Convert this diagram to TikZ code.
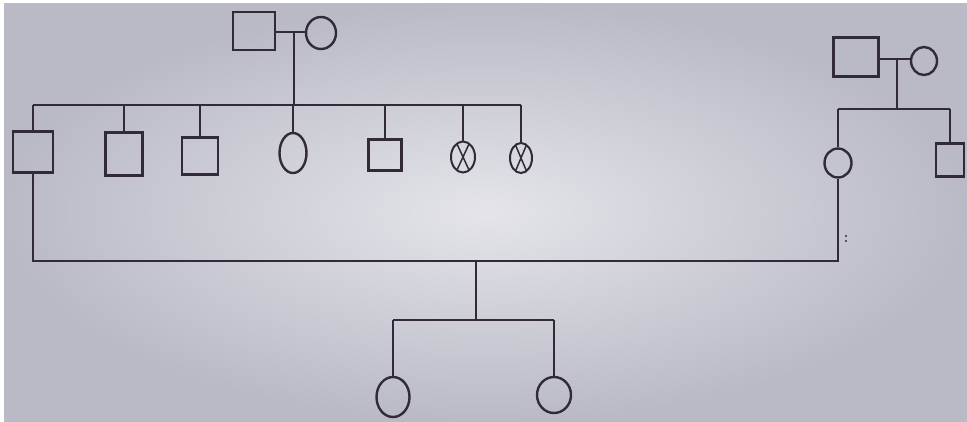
\documentclass[tikz,border=0pt]{standalone}
\usetikzlibrary{shapes.geometric}
\definecolor{ink}{RGB}{50,42,56}
\definecolor{paperin}{RGB}{228,228,234}
\definecolor{paperout}{RGB}{186,186,198}
\begin{document}
\begin{tikzpicture}[x=1pt,y=-1pt,
  sq/.style={draw=ink, rectangle, inner sep=0pt, line width=2.6pt},
  fem/.style={draw=ink, ellipse, inner sep=0pt, line width=2.4pt},
  aff/.style={fem, line width=2pt, path picture={
      \draw[ink, line width=1.5pt]
        ([xshift=3pt,yshift=4pt]path picture bounding box.north west) -- ([xshift=-3pt,yshift=-4pt]path picture bounding box.south east)
        ([xshift=-3pt,yshift=4pt]path picture bounding box.north east) -- ([xshift=3pt,yshift=-4pt]path picture bounding box.south west);}},
  lnk/.style={draw=ink, line width=2.8pt}]
\useasboundingbox (0,0) rectangle (967,421);
\fill[white] (0,0) rectangle (967,421);
\shade[inner color=paperin, outer color=paperout] (4,3) rectangle (967,421);

% generation I, left family
\node[sq, minimum width=42pt, minimum height=38pt] (gf1) at (254,31) {};
\node[fem, minimum width=30pt, minimum height=32pt] (gm1) at (321,33) {};
\coordinate (m1) at (294,32);
\coordinate (sib1) at (294,105);
\draw[lnk] (gf1.east |- m1) -- (gm1.west |- m1);
\draw[lnk] (m1) -- (sib1);

% generation II, left sibship
\node[sq, minimum width=40pt, minimum height=41pt] (c1) at (33,152) {};
\node[sq, minimum width=37pt, minimum height=43pt] (c2) at (124,154) {};
\node[sq, minimum width=36pt, minimum height=37pt] (c3) at (200,156) {};
\node[fem, minimum width=27pt, minimum height=40pt] (c4) at (293,153) {};
\node[sq, minimum width=33pt, minimum height=31pt] (c5) at (385,155) {};
\node[aff, minimum width=24pt, minimum height=31pt] (c6) at (463,157) {};
\node[aff, minimum width=22pt, minimum height=30pt] (c7) at (521,158) {};
\draw[lnk] (c1.north |- sib1) -- (c7.north |- sib1);
\foreach \c in {c1,c2,c3,c4,c5,c6,c7}{
  \draw[lnk] (\c.north |- sib1) -- (\c.north);
}

% generation I, right family
\node[sq, minimum width=45pt, minimum height=39pt] (gf2) at (856,57) {};
\node[fem, minimum width=26pt, minimum height=28pt] (gm2) at (924,61) {};
\coordinate (m2) at (897,59);
\coordinate (sib2) at (897,109);
\draw[lnk] (gf2.east |- m2) -- (gm2.west |- m2);
\draw[lnk] (m2) -- (sib2);

% generation II, right sibship
\node[fem, minimum width=27pt, minimum height=29pt] (d) at (838,163) {};
\node[sq, minimum width=28pt, minimum height=33pt] (s) at (950,160) {};
\draw[lnk] (d.north |- sib2) -- (s.north |- sib2);
\draw[lnk] (d.north |- sib2) -- (d.north);
\draw[lnk] (s.north |- sib2) -- (s.north);

% marriage of c1 and d
\coordinate (ml) at (0,261);
\coordinate (kid) at (476,261);
\coordinate (sib3) at (476,320);
\draw[lnk, line join=miter] (c1.south) -- (c1.south |- ml) -- (d.south |- ml) -- (d.south);
\draw[lnk] (kid) -- (sib3);

% generation III
\node[fem, minimum width=33pt, minimum height=40pt] (g1) at (393,397) {};
\node[fem, minimum width=34pt, minimum height=36pt] (g2) at (554,395) {};
\draw[lnk] (g1.north |- sib3) -- (g2.north |- sib3);
\draw[lnk] (g1.north |- sib3) -- (g1.north);
\draw[lnk] (g2.north |- sib3) -- (g2.north);

% small stray marks
\fill[ink] (846,236) circle (1.2pt) (846,241) circle (1.2pt);
\end{tikzpicture}
\end{document}
